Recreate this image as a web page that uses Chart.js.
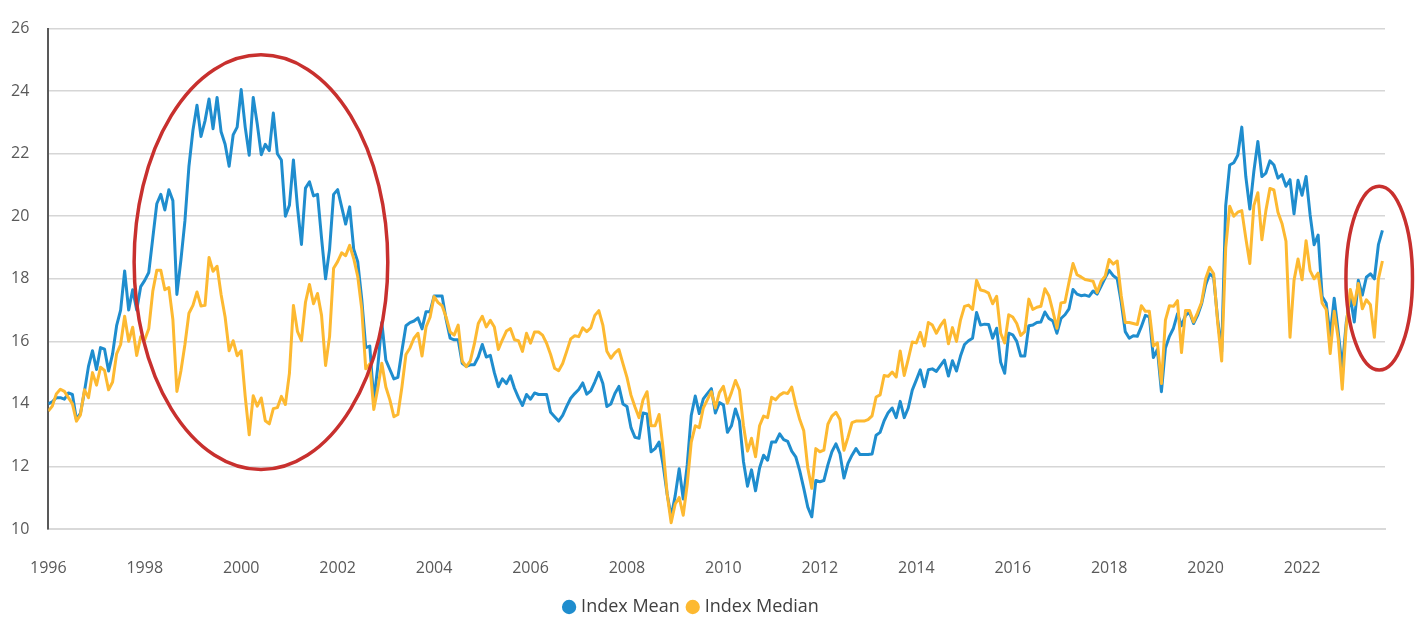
<!DOCTYPE html>
<html>
<head>
<meta charset="utf-8">
<title>Index Mean vs Index Median</title>
<script src="https://cdn.jsdelivr.net/npm/chart.js@4.4.1/dist/chart.umd.min.js"></script>
<style>
    html, body { margin: 0; padding: 0; background: #ffffff; }
    #chart-wrap { position: relative; width: 1424px; height: 618px; }
</style>
</head>
<body>
<div id="chart-wrap"><canvas id="indexChart"></canvas></div>
<script>
// monthly series, first value is Jan 1996
const startYear = 1996;
const yearTicks = [1996, 1998, 2000, 2002, 2004, 2006, 2008, 2010, 2012, 2014, 2016, 2018, 2020, 2022];
const valueTicks = [10, 12, 14, 16, 18, 20, 22, 24, 26];

const indexMean = [
    14.0, 14.07, 14.2, 14.2, 14.15, 14.35, 14.3, 13.5, 13.7, 14.4, 15.2, 15.7,          // 1996
    15.1, 15.8, 15.75, 15.05, 15.6, 16.5, 17.0, 18.25, 17.0, 17.65, 17.0, 17.75,        // 1997
    17.95, 18.2, 19.3, 20.4, 20.7, 20.2, 20.85, 20.5, 17.5, 18.6, 19.85, 21.6,          // 1998
    22.75, 23.55, 22.55, 23.05, 23.75, 22.8, 23.8, 22.7, 22.3, 21.6, 22.6, 22.85,       // 1999
    24.05, 22.85, 21.95, 23.8, 22.95, 21.97, 22.3, 22.1, 23.3, 22.0, 21.8, 20.0,        // 2000
    20.35, 21.8, 20.3, 19.1, 20.9, 21.1, 20.65, 20.7, 19.3, 18.0, 18.95, 20.7,          // 2001
    20.85, 20.3, 19.75, 20.3, 18.95, 18.55, 17.35, 15.8, 15.85, 14.1, 15.2, 16.6,       // 2002
    15.4, 15.1, 14.8, 14.85, 15.7, 16.5, 16.6, 16.65, 16.75, 16.4, 16.95, 16.95,        // 2003
    17.45, 17.45, 17.45, 16.7, 16.1, 16.05, 16.05, 15.3, 15.2, 15.25, 15.25, 15.5,      // 2004
    15.9, 15.5, 15.55, 15.0, 14.55, 14.8, 14.65, 14.9, 14.5, 14.2, 13.95, 14.3,         // 2005
    14.15, 14.35, 14.3, 14.3, 14.3, 13.73, 13.59, 13.45, 13.63, 13.92, 14.18, 14.33,    // 2006
    14.46, 14.67, 14.31, 14.42, 14.7, 15.01, 14.65, 13.92, 14.0, 14.33, 14.56, 14.0,    // 2007
    13.92, 13.24, 12.93, 12.9, 13.71, 13.68, 12.47, 12.57, 12.78, 12.05, 11.12, 10.39,  // 2008
    11.06, 11.93, 10.96, 12.05, 13.63, 14.25, 13.69, 14.16, 14.33, 14.49, 13.71, 14.04, // 2009
    13.97, 13.09, 13.3, 13.84, 13.45, 12.15, 11.37, 11.89, 11.22, 11.95, 12.36, 12.2,   // 2010
    12.78, 12.78, 13.04, 12.86, 12.8, 12.49, 12.31, 11.86, 11.3, 10.7, 10.39, 11.55,    // 2011
    11.51, 11.55, 12.05, 12.47, 12.72, 12.41, 11.63, 12.1, 12.36, 12.57, 12.38, 12.38,  // 2012
    12.38, 12.4, 13.0, 13.09, 13.46, 13.72, 13.87, 13.56, 14.08, 13.56, 13.87, 14.44,   // 2013
    14.76, 15.09, 14.55, 15.09, 15.12, 15.04, 15.22, 15.4, 14.89, 15.38, 15.05, 15.53,  // 2014
    15.9, 16.02, 16.1, 16.92, 16.52, 16.55, 16.54, 16.1, 16.42, 15.33, 14.98, 16.26,    // 2015
    16.21, 16.0, 15.53, 15.53, 16.5, 16.52, 16.6, 16.62, 16.94, 16.73, 16.65, 16.26,    // 2016
    16.73, 16.85, 17.04, 17.66, 17.51, 17.46, 17.48, 17.44, 17.61, 17.51, 17.77, 18.03, // 2017
    18.27, 18.1, 18.0, 17.25, 16.31, 16.1, 16.18, 16.16, 16.47, 16.83, 16.78, 15.48,    // 2018
    15.74, 14.39, 15.79, 16.16, 16.42, 16.88, 16.5, 16.83, 16.92, 16.57, 16.83, 17.2,   // 2019
    17.8, 18.16, 18.05, 16.7, 15.67, 20.34, 21.64, 21.71, 21.95, 22.85, 21.27, 20.23,   // 2020
    21.43, 22.39, 21.27, 21.38, 21.77, 21.64, 21.22, 21.33, 20.96, 21.17, 20.08, 21.15, // 2021
    20.67, 21.27, 20.05, 19.09, 19.4, 17.43, 17.22, 16.18, 17.38, 16.29, 15.15, 16.6,   // 2022
    17.43, 16.62, 17.95, 17.48, 18.05, 18.16, 18.0, 19.09, 19.55                        // 2023
];

const indexMedian = [
    13.77, 13.93, 14.32, 14.47, 14.4, 14.2, 14.0, 13.45, 13.65, 14.45, 14.2, 15.0,      // 1996
    14.6, 15.17, 15.07, 14.45, 14.7, 15.6, 15.9, 16.8, 16.0, 16.45, 15.55, 16.15,       // 1997
    16.05, 16.4, 17.6, 18.27, 18.27, 17.65, 17.72, 16.7, 14.4, 15.05, 15.9, 16.9,       // 1998
    17.15, 17.58, 17.13, 17.15, 18.68, 18.24, 18.4, 17.5, 16.78, 15.7, 16.02, 15.54,    // 1999
    15.7, 14.24, 13.01, 14.26, 13.93, 14.19, 13.46, 13.36, 13.85, 13.88, 14.24, 13.98,  // 2000
    14.97, 17.15, 16.32, 16.02, 17.25, 17.82, 17.2, 17.53, 16.83, 15.23, 16.16, 18.34,  // 2001
    18.55, 18.83, 18.74, 19.07, 18.65, 18.08, 17.04, 15.12, 15.28, 13.82, 14.5, 15.3,   // 2002
    14.54, 14.13, 13.59, 13.66, 14.54, 15.58, 15.79, 16.1, 16.26, 15.53, 16.46, 16.77,  // 2003
    17.43, 17.24, 17.14, 16.77, 16.3, 16.2, 16.52, 15.37, 15.19, 15.37, 15.9, 16.57,    // 2004
    16.8, 16.46, 16.67, 16.46, 15.74, 16.05, 16.33, 16.41, 16.05, 16.02, 15.68, 16.26,  // 2005
    15.94, 16.3, 16.3, 16.2, 15.94, 15.58, 15.14, 15.06, 15.29, 15.68, 16.08, 16.18,    // 2006
    16.15, 16.43, 16.31, 16.43, 16.83, 16.98, 16.52, 15.68, 15.46, 15.63, 15.74, 15.29, // 2007
    14.85, 14.28, 13.9, 13.56, 14.13, 14.39, 13.3, 13.3, 13.66, 12.57, 11.12, 10.2,     // 2008
    10.8, 11.01, 10.44, 11.43, 12.78, 13.3, 13.24, 13.87, 14.13, 14.39, 13.87, 14.36,   // 2009
    14.56, 14.02, 14.36, 14.75, 14.44, 13.3, 12.49, 12.9, 12.31, 13.3, 13.61, 13.56,    // 2010
    14.21, 14.13, 14.28, 14.36, 14.33, 14.54, 13.97, 13.5, 13.14, 11.95, 11.3, 12.57,   // 2011
    12.47, 12.52, 13.35, 13.61, 13.73, 13.5, 12.52, 12.93, 13.4, 13.45, 13.45, 13.45,   // 2012
    13.5, 13.62, 14.22, 14.29, 14.91, 14.88, 15.02, 14.86, 15.69, 14.91, 15.43, 15.98,  // 2013
    15.95, 16.29, 15.85, 16.6, 16.52, 16.26, 16.5, 16.68, 15.92, 16.44, 16.0, 16.68,    // 2014
    17.12, 17.16, 17.02, 17.95, 17.64, 17.61, 17.54, 17.2, 17.44, 16.26, 15.95, 16.85,  // 2015
    16.78, 16.57, 16.19, 16.31, 17.35, 17.02, 17.09, 17.12, 17.68, 17.46, 16.96, 16.42, // 2016
    17.23, 17.25, 17.89, 18.49, 18.13, 18.06, 17.98, 17.95, 17.92, 17.56, 17.92, 18.08, // 2017
    18.62, 18.47, 18.57, 17.46, 16.6, 16.6, 16.57, 16.54, 17.14, 16.96, 16.96, 15.85,   // 2018
    15.95, 14.65, 16.68, 17.14, 17.12, 17.3, 15.64, 16.99, 16.99, 16.62, 16.92, 17.25,  // 2019
    18.0, 18.37, 18.16, 16.6, 15.37, 18.99, 20.32, 20.0, 20.13, 20.18, 19.3, 18.49,     // 2020
    20.34, 20.75, 19.25, 20.18, 20.89, 20.84, 20.13, 19.77, 19.2, 16.13, 17.95, 18.63,  // 2021
    17.97, 19.22, 18.26, 18.0, 18.18, 17.22, 17.02, 15.61, 16.96, 16.08, 14.47, 16.5,   // 2022
    17.66, 17.17, 17.85, 17.04, 17.33, 17.17, 16.13, 18.0, 18.57                        // 2023
];

// red rings drawn over the chart, in axis units (year, index level)
const highlightAreas = [
    { centerYear: 2000.41, centerValue: 18.53, halfYears: 2.63, halfRange: 6.63 },
    { centerYear: 2023.6, centerValue: 18.02, halfYears: 0.69, halfRange: 2.94 }
];

const meanColor = "#1f8dce";
const medianColor = "#fdb931";
const textColor = "#595959";

function toPoints(values) {
    return values.map((v, i) => ({ x: startYear + i / 12, y: v }));
}

const highlightPlugin = {
    id: "highlightAreas",
    afterDraw(chart) {
        const { ctx } = chart;
        const xScale = chart.scales.x;
        const yScale = chart.scales.y;

        ctx.save();
        ctx.strokeStyle = "#c8302e";
        ctx.lineWidth = 3.5;
        highlightAreas.forEach(area => {
            const cx = xScale.getPixelForValue(area.centerYear);
            const cy = yScale.getPixelForValue(area.centerValue);
            const rx = Math.abs(xScale.getPixelForValue(area.centerYear + area.halfYears) - cx);
            const ry = Math.abs(yScale.getPixelForValue(area.centerValue + area.halfRange) - cy);
            ctx.beginPath();
            ctx.ellipse(cx, cy, rx, ry, 0, 0, Math.PI * 2);
            ctx.stroke();
        });
        ctx.restore();
    }
};

const ctx = document.getElementById("indexChart").getContext("2d");

new Chart(ctx, {
    type: "line",
    data: {
        datasets: [
            {
                label: "Index Mean",
                data: toPoints(indexMean),
                borderColor: meanColor,
                backgroundColor: meanColor,
                borderWidth: 3,
                pointRadius: 0,
                tension: 0,
                borderJoinStyle: "round",
                order: 1
            },
            {
                label: "Index Median",
                data: toPoints(indexMedian),
                borderColor: medianColor,
                backgroundColor: medianColor,
                borderWidth: 3,
                pointRadius: 0,
                tension: 0,
                borderJoinStyle: "round",
                order: 0
            }
        ]
    },
    options: {
        responsive: true,
        maintainAspectRatio: false,
        animation: false,
        layout: {
            // negative bottom so the legend sits low like the original
            padding: { top: 16, right: 39, bottom: -8, left: 0 }
        },
        scales: {
            x: {
                type: "linear",
                min: startYear,
                max: 2023.72,
                afterFit: scale => { scale.height = 59; },
                afterBuildTicks: scale => {
                    scale.ticks = yearTicks.map(v => ({ value: v }));
                },
                grid: { display: false, drawTicks: false },
                border: { display: true, color: "#d9d9d9", width: 2 },
                ticks: {
                    padding: 30,
                    color: textColor,
                    font: { family: "Open Sans", size: 16 },
                    maxRotation: 0,
                    autoSkip: false,
                    callback: v => String(v)
                }
            },
            y: {
                min: 10,
                max: 26,
                afterFit: scale => { scale.width = 47; },
                afterBuildTicks: scale => {
                    scale.ticks = valueTicks.map(v => ({ value: v }));
                },
                grid: { color: "#d6d6d6", lineWidth: 1.5, drawTicks: false },
                border: { display: true, color: "#595959", width: 2 },
                ticks: {
                    padding: 19,
                    color: textColor,
                    font: { family: "Open Sans", size: 16 },
                    callback: v => String(v)
                }
            }
        },
        plugins: {
            legend: {
                position: "bottom",
                labels: {
                    usePointStyle: true,
                    pointStyle: "circle",
                    boxWidth: 6,
                    boxHeight: 8,
                    padding: 10,
                    color: "#404040",
                    font: { family: "Open Sans", size: 18 },
                    sort: (a, b) => a.datasetIndex - b.datasetIndex
                }
            },
            tooltip: { enabled: false }
        }
    },
    plugins: [highlightPlugin]
});
</script>
</body>
</html>
